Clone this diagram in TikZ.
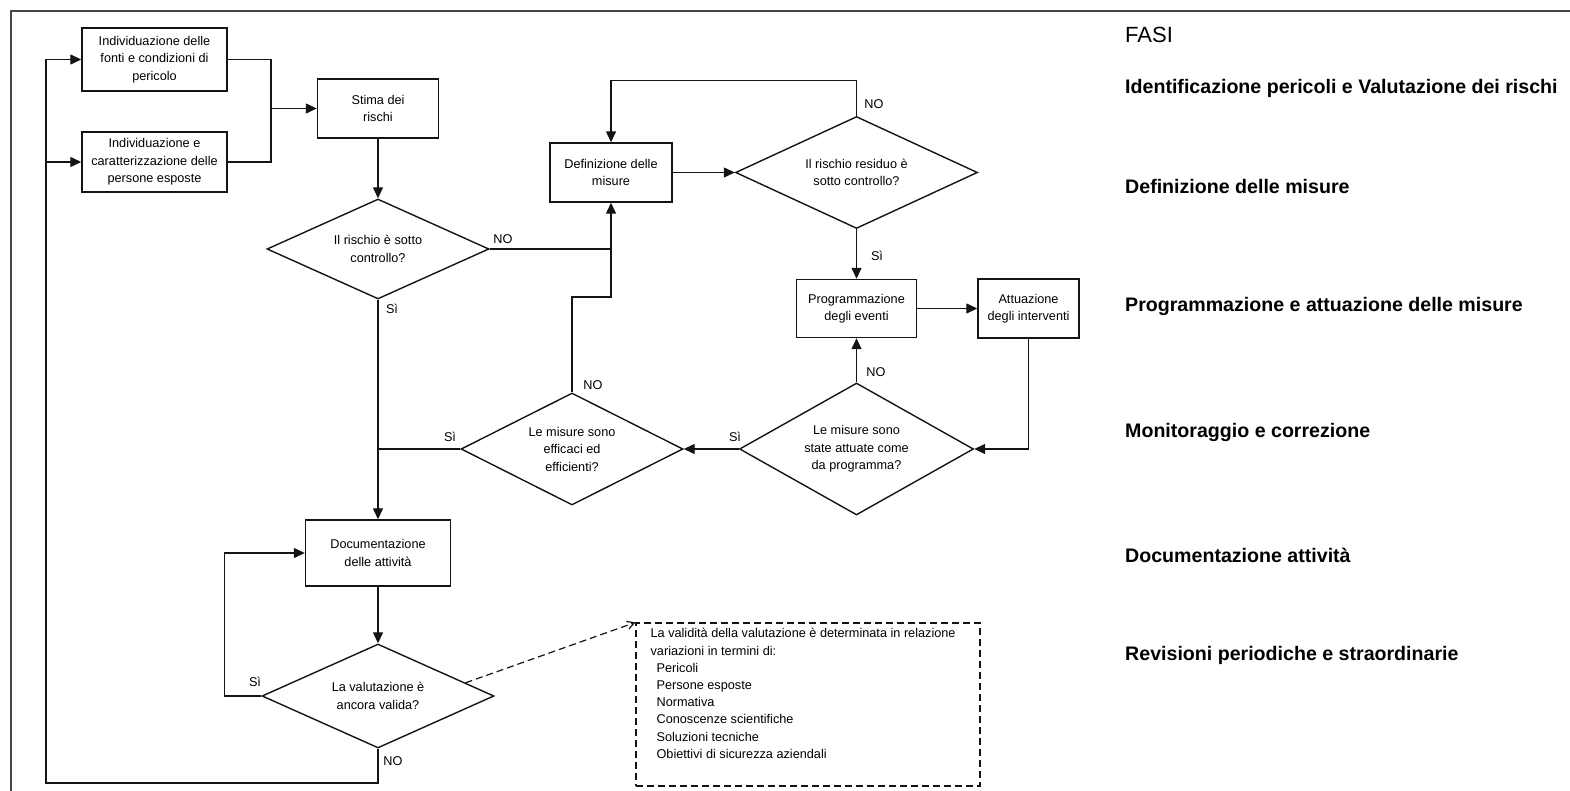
\documentclass[tikz,border=0pt]{standalone}
\usepackage{fontspec}
\setmainfont{Liberation Sans}
\usepackage{tikz}
\usetikzlibrary{positioning, shapes.geometric, calc, arrows.meta}
\definecolor{fcLine}{RGB}{20,20,20}
\definecolor{fcFrame}{RGB}{70,70,70}

\begin{document}
\begin{tikzpicture}[x=1pt, y=-1pt,
    box/.style={draw=fcLine, line width=1.4pt, inner sep=0pt, align=center, font=\fontsize{12.7}{17.5}\selectfont},
    decision/.style={draw=fcLine, line width=1.4pt, shape=diamond, aspect=2, inner sep=0pt, align=center, font=\fontsize{12.7}{17.5}\selectfont},
    lab/.style={font=\fontsize{12.7}{15}\selectfont, inner sep=0pt},
    arr/.style={draw=fcLine, line width=1.3pt, -{Triangle[length=11pt, width=10pt]}},
    link/.style={draw=fcLine, line width=1.3pt},
    fase/.style={anchor=base west, inner sep=0pt, font=\fontsize{19.6}{22}\selectfont\bfseries}
]
  \useasboundingbox (0,0) rectangle (1570,791);

  % Frame
  \draw[fcFrame, line width=1.3pt] (11,791) -- (11,11) -- (1570,11);

  % Identification
  \node[box, minimum width=145, minimum height=63] (fonti) at (154.5,59.5) {Individuazione delle\\fonti e condizioni di\\pericolo};
  \node[box, minimum width=145, minimum height=60] (persone) at (154.5,162) {Individuazione e\\caratterizzazione delle\\persone esposte};
  \node[box, minimum width=121, minimum height=59] (stima) at (378,108.5) {Stima dei\\rischi};
  \node[decision, minimum width=222, minimum height=100] (d1) at (378,249) {Il rischio è sotto\\controllo?};

  % Measures
  \node[box, minimum width=122, minimum height=59] (misure) at (611,172.5) {Definizione delle\\misure};
  \node[decision, minimum width=242, minimum height=112] (d2) at (856.5,172.5) {Il rischio residuo è\\sotto controllo?};
  \node[box, minimum width=120, minimum height=58] (prog) at (856.5,308.5) {Programmazione\\degli eventi};
  \node[box, minimum width=101, minimum height=59] (attua) at (1028.5,308.5) {Attuazione\\degli interventi};

  % Monitoring
  \node[decision, minimum width=234, minimum height=132] (d4) at (856.5,449) {Le misure sono\\state attuate come\\da programma?};
  \node[decision, minimum width=222, minimum height=112] (d3) at (572,449) {Le misure sono\\efficaci ed\\efficienti?};

  % Documentation and review
  \node[box, minimum width=145, minimum height=66] (doc) at (378,553) {Documentazione\\delle attività};
  \node[decision, minimum width=232, minimum height=104] (d5) at (378,696) {La valutazione è\\ancora valida?};
  \node[draw=fcLine, line width=1.2pt, dash pattern=on 7pt off 4pt, minimum width=344, minimum height=163, inner sep=0pt] (nota) at (808,704.5) {};
  \node[anchor=north west, align=left, inner sep=0pt, font=\fontsize{12.7}{17.2}\selectfont] (notatxt) at ($(nota.north west)+(15,6)$) {La validità della valutazione è determinata in relazione\\
    variazioni in termini di:\\
    \hspace*{6pt}Pericoli\\
    \hspace*{6pt}Persone esposte\\
    \hspace*{6pt}Normativa\\
    \hspace*{6pt}Conoscenze scientifiche\\
    \hspace*{6pt}Soluzioni tecniche\\
    \hspace*{6pt}Obiettivi di sicurezza aziendali};

  % Connectors
  \coordinate (back) at (46,783);
  \coordinate (join) at (271,108.5);
  \coordinate (up) at (611,297);
  \draw[arr] (d5.south) |- (back) |- (fonti.west);
  \draw[arr] (back |- persone.west) -- (persone.west);
  \draw[link] (fonti.east) -| (join);
  \draw[link] (persone.east) -| (join);
  \draw[arr] (join) -- (stima.west);
  \draw[arr] (stima) -- (d1);
  \draw[link] (d1.east) -- (d1.east -| misure.south);
  \draw[arr] (d3.north) |- (up) -- (misure.south);
  \draw[arr] (misure.east) -- (d2.west);
  \draw[arr] (d2.north) -- ++(0,-35) -| (misure.north);
  \draw[arr] (d2.south) -- (prog.north);
  \draw[arr] (prog.east) -- (attua.west);
  \draw[arr] (attua.south) |- (d4.east);
  \draw[arr] (d4.north) -- (prog.south);
  \draw[arr] (d4.west) -- (d3.east);
  \draw[link] (d3.west) -- (d3.west -| d1.south);
  \draw[arr] (d1.south) -- (doc.north);
  \draw[arr] (doc) -- (d5);
  \draw[arr] (d5.west) -- ++(-37,0) |- (doc.west);
  \draw[link, line width=1.2pt, dash pattern=on 7pt off 4pt, -{Straight Barb[length=7pt, width=8pt]}] ($(d5.north)!0.75!(d5.east)$) -- (nota.north west);

  % Answers
  \node[lab] (si1) at (392,309) {Sì};
  \node[lab] (no1) at (503,239) {NO};
  \node[lab] (no2) at (874,104) {NO};
  \node[lab] (si2) at (877,256) {Sì};
  \node[lab] (no3) at (593,385) {NO};
  \node[lab] (no4) at (876,372) {NO};
  \node[lab] (si4) at (735,437) {Sì};
  \node[lab] (si3) at (450,437) {Sì};
  \node[lab] (si5) at (255,682) {Sì};
  \node[lab] (no5) at (393,761) {NO};

  % Phases
  \node[anchor=base west, inner sep=0pt, font=\fontsize{22}{24}\selectfont] (fasi) at (1125,43) {FASI};
  \foreach \y/\t [count=\i] in {94/Identificazione pericoli e Valutazione dei rischi, 194/Definizione delle misure, 312/Programmazione e attuazione delle misure, 437/Monitoraggio e correzione, 562/Documentazione attività, 660/Revisioni periodiche e straordinarie}
    \node[fase] (fase\i) at (1125,\y) {\t};
\end{tikzpicture}
\end{document}
